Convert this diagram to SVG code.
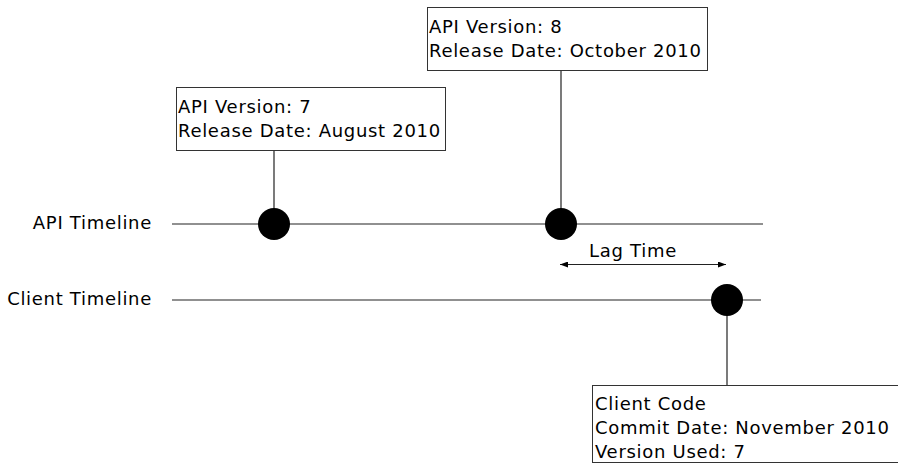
<svg xmlns="http://www.w3.org/2000/svg" width="898" height="464" viewBox="0 0 898 464">
<defs>
<style>
text{font-family:"DejaVu Sans",Verdana,sans-serif;font-size:18px;letter-spacing:0.7px;fill:#000}
.box{fill:#fff;stroke:#333;stroke-width:1}
.ln{stroke:#222;stroke-width:1.2;fill:none}
.dot{fill:#000}
</style>
<marker id="ah" viewBox="0 0 8 6" refX="8" refY="3" markerWidth="8" markerHeight="6" orient="auto-start-reverse" markerUnits="userSpaceOnUse">
<path d="M0,0 L8,3 L0,6 Z" fill="#000"/>
</marker>
</defs>
<g id="connectors">
<line class="ln" x1="172" y1="224" x2="763" y2="224"/>
<line class="ln" x1="172" y1="300" x2="761" y2="300"/>
<line class="ln" x1="274" y1="151" x2="274" y2="224"/>
<line class="ln" x1="561" y1="70" x2="561" y2="224"/>
<line class="ln" x1="727" y1="300" x2="727" y2="385"/>
<line class="ln" x1="560" y1="264.5" x2="726" y2="264.5" marker-start="url(#ah)" marker-end="url(#ah)"/>
</g>
<g id="label-api">
<text x="152" y="229" text-anchor="end">API Timeline</text>
</g>
<g id="label-client">
<text x="152" y="305" text-anchor="end">Client Timeline</text>
</g>
<g id="label-lag">
<text x="633" y="257" text-anchor="middle">Lag Time</text>
</g>
<g id="dot-v7"><circle class="dot" cx="274" cy="224" r="16"/></g>
<g id="dot-v8"><circle class="dot" cx="561" cy="224" r="16"/></g>
<g id="dot-client"><circle class="dot" cx="727" cy="300" r="16"/></g>
<g id="box-v7">
<rect class="box" x="176.5" y="87.5" width="269" height="63"/>
<text x="178" y="113">API Version: 7</text>
<text x="178" y="137">Release Date: August 2010</text>
</g>
<g id="box-v8">
<rect class="box" x="427.5" y="7.5" width="280" height="63"/>
<text x="429" y="33">API Version: 8</text>
<text x="429" y="57">Release Date: October 2010</text>
</g>
<g id="box-client">
<rect class="box" x="592.5" y="385.5" width="320" height="77"/>
<text x="595" y="410">Client Code</text>
<text x="595" y="434">Commit Date: November 2010</text>
<text x="595" y="458">Version Used: 7</text>
</g>
</svg>
